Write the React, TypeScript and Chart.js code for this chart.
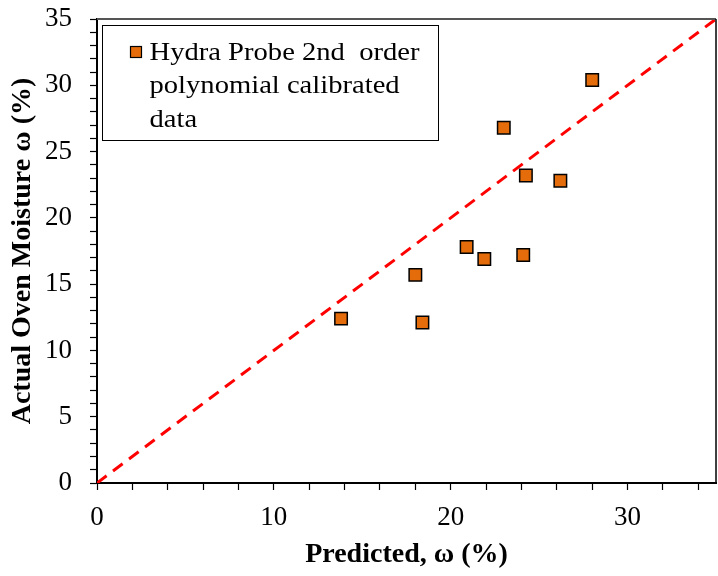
import React, { useEffect, useRef } from "react";
import { Chart, registerables } from "chart.js";

Chart.register(...registerables);

const predicted = [13.8, 18.0, 18.4, 20.9, 21.9, 23.0, 24.25, 24.1, 26.2, 28.0];
const actual = [12.4, 15.7, 12.1, 17.8, 16.9, 26.8, 23.2, 17.2, 22.8, 30.4];
const lineX = [0, 35];
const lineY = [0, 35];
const legendLines = ["Hydra Probe 2nd  order", "polynomial calibrated", "data"];
const xTitle = "Predicted, ω (%)";
const yTitle = "Actual Oven Moisture ω (%)";

const SERIF = "'Liberation Serif', 'Times New Roman', serif";
const ORANGE = "#E46C0A";

const zeroPad = (s: any) => {
  s.paddingLeft = 0;
  s.paddingRight = 0;
  s.paddingTop = 0;
  s.paddingBottom = 0;
};

const framePlugin = {
  id: "frame",
  afterDatasetsDraw(chart: any) {
    const { ctx, chartArea: a } = chart;
    ctx.save();
    ctx.lineWidth = 2;
    ctx.strokeStyle = "#555555";
    ctx.beginPath();
    ctx.moveTo(a.left, a.top);
    ctx.lineTo(a.right, a.top);
    ctx.stroke();
    ctx.strokeStyle = "#000000";
    ctx.lineWidth = 1.5;
    ctx.beginPath();
    ctx.moveTo(a.right, a.top);
    ctx.lineTo(a.right, a.bottom);
    ctx.stroke();

    const bx = a.left + 5.5;
    const by = a.top + 6.5;
    const bw = 336;
    const bh = 115;
    ctx.fillStyle = "#ffffff";
    ctx.fillRect(bx, by, bw, bh);
    ctx.lineWidth = 1;
    ctx.strokeStyle = "#000000";
    ctx.strokeRect(bx, by, bw, bh);
    ctx.fillStyle = ORANGE;
    ctx.fillRect(bx + 28, by + 21, 11, 11);
    ctx.lineWidth = 1.2;
    ctx.strokeRect(bx + 28, by + 21, 11, 11);
    ctx.fillStyle = "#000000";
    ctx.font = `26px ${SERIF}`;
    ctx.textBaseline = "alphabetic";
    ctx.textAlign = "left";
    legendLines.forEach((t, i) => {
      ctx.save();
      ctx.translate(bx + 47, by + 34 + i * 33.5);
      ctx.scale(1.1, 1);
      ctx.fillText(t, 0, 0);
      ctx.restore();
    });
    ctx.restore();
  },
};

export default function App() {
  const ref = useRef<HTMLCanvasElement | null>(null);
  useEffect(() => {
    if (!ref.current) return;
    const chart = new Chart(ref.current, {
      type: "scatter",
      data: {
        datasets: [
          {
            type: "line",
            label: "1:1",
            data: lineX.map((x, i) => ({ x, y: lineY[i] })),
            borderColor: "#FF0000",
            borderWidth: 3,
            borderDash: [12, 8],
            pointRadius: 0,
            fill: false,
            order: 2,
          } as any,
          {
            label: legendLines.join(" "),
            data: predicted.map((x, i) => ({ x, y: actual[i] })),
            pointStyle: "rect",
            pointRadius: 8.8,
            backgroundColor: ORANGE,
            borderColor: "#000000",
            borderWidth: 1.5,
            order: 1,
          },
        ],
      },
      options: {
        animation: false,
        responsive: false,
        maintainAspectRatio: false,
        layout: { autoPadding: false, padding: { top: 19, right: 2, left: 0, bottom: 0 } },
        plugins: { legend: { display: false }, tooltip: { enabled: false } },
        scales: {
          x: {
            type: "linear",
            min: 0,
            max: 35,
            afterFit: (s: any) => {
              s.height = 93;
              zeroPad(s);
            },
            grid: { drawOnChartArea: false, drawTicks: true, tickLength: 7, tickColor: "#000", tickWidth: 1.2 },
            border: { display: true, color: "#000", width: 2 },
            ticks: {
              stepSize: 2,
              autoSkip: false,
              includeBounds: false,
              maxRotation: 0,
              padding: 12,
              color: "#000",
              font: { family: SERIF, size: 27 },
              callback: (v: any) => (Number(v) % 10 === 0 ? String(v) : ""),
            },
            title: {
              display: true,
              text: xTitle,
              color: "#000",
              font: { family: SERIF, size: 28, weight: "bold" },
              padding: { top: 0, bottom: 4 },
            },
          },
          y: {
            type: "linear",
            min: 0,
            max: 35,
            afterFit: (s: any) => {
              s.width = 97;
              zeroPad(s);
            },
            grid: { drawOnChartArea: false, drawTicks: true, tickLength: 7, tickColor: "#000", tickWidth: 1.2 },
            border: { display: true, color: "#000", width: 2 },
            ticks: {
              stepSize: 1,
              autoSkip: false,
              padding: 18,
              color: "#000",
              font: { family: SERIF, size: 27 },
              callback: (v: any) => (Number(v) % 5 === 0 ? String(v) : ""),
            },
            title: {
              display: true,
              text: yTitle,
              color: "#000",
              font: { family: SERIF, size: 28, weight: "bold" },
              padding: { top: 6, bottom: 0 },
            },
          },
        },
      },
      plugins: [framePlugin],
    });
    return () => chart.destroy();
  }, []);
  return (
    <div style={{ position: "fixed", left: 0, top: 0, width: 718, height: 576, background: "#fff" }}>
      <canvas ref={ref} width={718} height={576} style={{ width: 718, height: 576 }} />
    </div>
  );
}
